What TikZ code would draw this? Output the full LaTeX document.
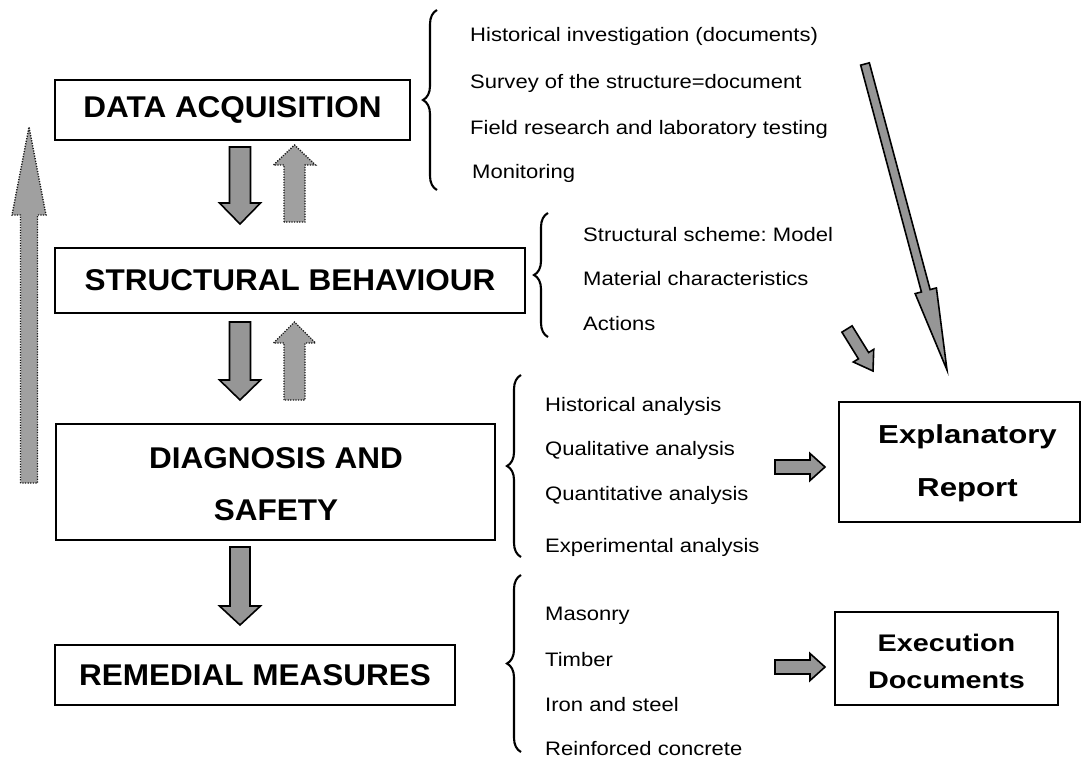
\documentclass[tikz,border=0pt]{standalone}
\usepackage{fontspec}
\setmainfont{Liberation Sans}
\newfontfamily\itemfont[FakeStretch=1.13]{Liberation Sans}
\newfontfamily\boxfont[FakeStretch=1.05]{Liberation Sans}
\newfontfamily\sidefont[FakeStretch=1.2]{Liberation Sans}
\usetikzlibrary{calc,decorations.pathreplacing}
\frenchspacing
\definecolor{arrgray}{RGB}{150,150,150}
\definecolor{dotgray}{RGB}{160,160,160}
\newcommand\blockarrow[6][]{%
  \path[#1] let \p1=($(#3)-(#2)$), \n1={atan2(\y1,\x1)}, \n2={veclen(\x1,\y1)} in
   [shift={(#2)}, rotate=\n1]
   (0pt,#4pt) -- ({\n2-#6pt},#4pt) -- ({\n2-#6pt},#5pt) -- (\n2,0pt)
   -- ({\n2-#6pt},-#5pt) -- ({\n2-#6pt},-#4pt) -- (0pt,-#4pt) -- cycle;}
\tikzset{
  box/.style={draw, line width=1.3pt, inner sep=0pt, align=center},
  bigbox/.style={box, font=\fontsize{30}{52}\boxfont\bfseries},
  sidetext/.style={inner sep=0pt, align=center},
  item/.style={anchor=mid west, inner sep=0pt, font=\fontsize{19.5}{24}\itemfont\frenchspacing},
  solidarr/.style={draw=black, line width=1.6pt, fill=arrgray, line join=miter},
  dotarr/.style={draw=black!90, dash pattern=on 1.2pt off 1.4pt, line width=1.4pt, fill=dotgray},
  bracestyle/.style={decorate, decoration={brace, amplitude=14pt}, line width=2.1pt},
}
\begin{document}
\begin{tikzpicture}[x=1pt,y=-1pt]
\useasboundingbox (0,0) rectangle (1084,760);
% boxes
\node[bigbox, minimum width=355pt, minimum height=60pt] (da) at (232.5,110) {DATA ACQUISITION};
\node[bigbox, minimum width=470pt, minimum height=65pt] (sb) at (290,280.5) {STRUCTURAL BEHAVIOUR};
\node[bigbox, minimum width=439pt, minimum height=116pt] (ds) at (275.5,482) {};
\node[sidetext, font=\fontsize{30}{52}\boxfont\bfseries] (dst) at (276,484) {DIAGNOSIS AND\\SAFETY};
\node[bigbox, minimum width=400pt, minimum height=60pt] (rm) at (255,675) {REMEDIAL MEASURES};
\node[box, minimum width=241pt, minimum height=120pt] (er) at (959.5,462) {};
\node[sidetext, font=\fontsize{26}{53}\sidefont\bfseries] (ert) at (967.5,463.5) {Explanatory\\Report};
\node[box, minimum width=223pt, minimum height=93pt] (ed) at (946.5,658.5) {};
\node[sidetext, font=\fontsize{24}{37}\sidefont\bfseries] (edt) at (946.5,661) {Execution\\Documents};
% braces
\draw[bracestyle] (437,190) -- (437,10);
\draw[bracestyle] (548,337) -- (548,213);
\draw[bracestyle] (521,557) -- (521,375);
\draw[bracestyle] (521,752) -- (521,575);
% items
\node[item] (i11) at (470,39) {Historical investigation (documents)};
\node[item] (i12) at (470,86) {Survey of the structure=document};
\node[item] (i13) at (470,132) {Field research and laboratory testing};
\node[item] (i14) at (472,176) {Monitoring};
\node[item] (i21) at (583,239) {Structural scheme: Model};
\node[item] (i22) at (583,283) {Material characteristics};
\node[item] (i23) at (583,328) {Actions};
\node[item] (i31) at (545,409) {Historical analysis};
\node[item] (i32) at (545,453) {Qualitative analysis};
\node[item] (i33) at (545,498) {Quantitative analysis};
\node[item] (i34) at (545,550) {Experimental analysis};
\node[item] (i41) at (545,618) {Masonry};
\node[item] (i42) at (545,664) {Timber};
\node[item] (i43) at (545,709) {Iron and steel};
\node[item] (i44) at (545,753) {Reinforced concrete};
% arrow end points
\coordinate (bigT) at (29,483);   \coordinate (bigH) at (29,127);
\coordinate (d1T) at (240,147);   \coordinate (d1H) at (240,224);
\coordinate (u1T) at (294.5,222); \coordinate (u1H) at (294.5,145);
\coordinate (d2T) at (240,322);   \coordinate (d2H) at (240,400);
\coordinate (u2T) at (294.5,400); \coordinate (u2H) at (294.5,322);
\coordinate (d3T) at (240,547);   \coordinate (d3H) at (240,625);
\coordinate (r1T) at (775,467);   \coordinate (r1H) at (825,467);
\coordinate (r2T) at (775,667);   \coordinate (r2H) at (825,667);
\coordinate (lgT) at (865,64);    \coordinate (lgH) at (947,370);
\coordinate (shT) at (847,329);   \coordinate (shH) at (873,371);
% arrows
\blockarrow[dotarr]{bigT}{bigH}{8.5}{17}{88}
\blockarrow[solidarr]{d1T}{d1H}{10.5}{20.5}{21}
\blockarrow[dotarr]{u1T}{u1H}{10.5}{21}{20}
\blockarrow[solidarr]{d2T}{d2H}{10.5}{20.5}{20}
\blockarrow[dotarr]{u2T}{u2H}{10.5}{21}{21}
\blockarrow[solidarr]{d3T}{d3H}{10}{20.5}{19}
\blockarrow[solidarr]{r1T}{r1H}{7}{13.5}{15}
\blockarrow[solidarr]{r2T}{r2H}{7}{13.5}{15}
\blockarrow[solidarr]{lgT}{lgH}{4.5}{11}{82}
\blockarrow[solidarr]{shT}{shH}{6}{12}{18}
\end{tikzpicture}
\end{document}
